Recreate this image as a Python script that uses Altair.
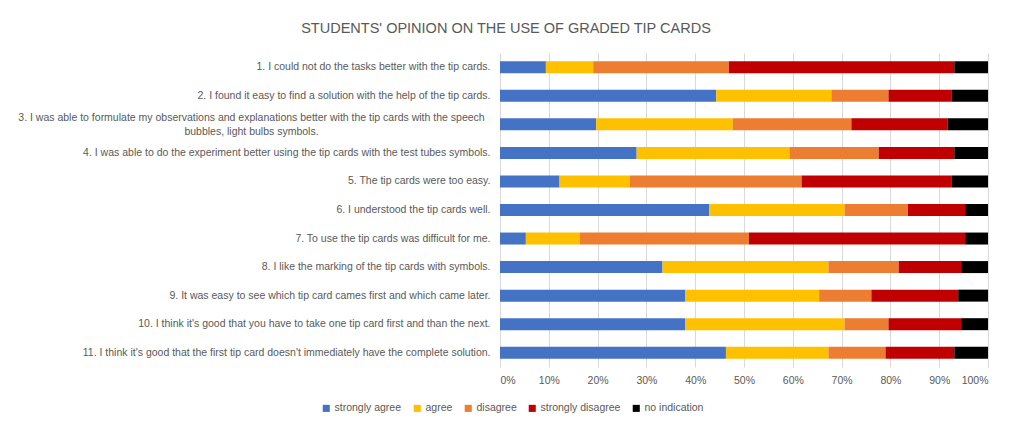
import altair as alt
import pandas as pd

statements = [
    "1. I could not do the tasks better with the tip cards.",
    "2. I found it easy to find a solution with the help of the tip cards.",
    "3. I was able to formulate my observations and explanations better with the tip cards with the speech|bubbles, light bulbs symbols.",
    "4. I was able to do the experiment better using the tip cards with the test tubes symbols.",
    "5. The tip cards were too easy.",
    "6. I understood the tip cards well.",
    "7. To use the tip cards was difficult for me.",
    "8. I like the marking of the tip cards with symbols.",
    "9. It was easy to see which tip card cames first and which came later.",
    "10. I think it's good that you have to take one tip card first and than the next.",
    "11. I think it's good that the first tip card doesn't immediately have the complete solution.",
]
categories = ["strongly agree", "agree", "disagree", "strongly disagree", "no indication"]
colors = ["#4472C4", "#FFC000", "#ED7D31", "#C00000", "#000000"]

strongly_agree = [9.4, 44.3, 19.7, 28.0, 12.2, 42.9, 5.3, 33.3, 38.0, 38.0, 46.3]
agree = [9.7, 23.6, 28.0, 31.3, 14.4, 27.7, 11.0, 34.0, 27.4, 32.6, 21.0]
disagree = [27.8, 11.7, 24.3, 18.3, 35.2, 13.0, 34.7, 14.4, 10.7, 9.0, 11.7]
strongly_disagree = [46.2, 13.0, 19.7, 15.5, 30.8, 11.7, 44.3, 12.8, 17.8, 14.9, 14.1]
no_indication = [6.9, 7.4, 8.3, 6.9, 7.4, 4.7, 4.7, 5.5, 6.1, 5.5, 6.9]

series = [strongly_agree, agree, disagree, strongly_disagree, no_indication]
rows = []
for ci, (cat, vals) in enumerate(zip(categories, series)):
    for s, v in zip(statements, vals):
        rows.append({"statement": s, "category": cat, "value": v, "order": ci})
df = pd.DataFrame(rows)

FONT = "Liberation Sans"
GRAY = "#595959"
IS3 = "indexof(datum.value, '3.') == 0"

chart = alt.Chart(df).mark_bar().encode(
    y=alt.Y(
        "statement:N",
        sort=statements,
        scale=alt.Scale(paddingInner=0.58, paddingOuter=0.29),
        axis=alt.Axis(
            title=None,
            labelExpr="split(datum.label, '|')",
            labelAlign={"condition": {"test": IS3, "value": "center"}, "value": "right"},
            labelPadding={"condition": {"test": IS3, "value": 249}, "value": 10},
            labelOffset={"condition": {"test": IS3, "value": -6.5}, "value": 0},
            labelLimit=600,
            labelLineHeight=14,
            labelFontSize=10.5,
            labelFont=FONT,
            labelColor=GRAY,
            ticks=False,
            domain=False,
            grid=False,
        ),
    ),
    x=alt.X(
        "value:Q",
        stack="normalize",
        scale=alt.Scale(domain=[0, 1], nice=False),
        axis=alt.Axis(
            title=None,
            format="%",
            values=[i / 10 for i in range(11)],
            labelFontSize=10.5,
            labelFont=FONT,
            labelColor=GRAY,
            ticks=False,
            domain=False,
            grid=True,
            gridColor="#D9D9D9",
            labelPadding=8,
        ),
    ),
    color=alt.Color(
        "category:N",
        sort=categories,
        scale=alt.Scale(domain=categories, range=colors),
        legend=alt.Legend(
            title=None,
            orient="none",
            direction="horizontal",
            legendX=-179,
            legendY=350,
            symbolType="square",
            symbolSize=50,
            symbolStrokeWidth=0,
            labelFontSize=10.5,
            labelFont=FONT,
            labelColor=GRAY,
            columnPadding=10,
            labelOffset=3,
        ),
    ),
    order=alt.Order("order:Q"),
).properties(
    width=488,
    height=314,
    title=alt.TitleParams(
        "STUDENTS' OPINION ON THE USE OF GRADED TIP CARDS",
        font=FONT,
        fontSize=14.5,
        fontWeight="normal",
        color=GRAY,
        anchor="middle",
        dx=-238,
        offset=17,
    ),
    autosize=alt.AutoSizeParams(type="none"),
    padding={"left": 492, "top": 45, "right": 20, "bottom": 47},
).configure_view(stroke=None)

chart.save("out.html", embed_options={"renderer": "svg", "actions": False})
